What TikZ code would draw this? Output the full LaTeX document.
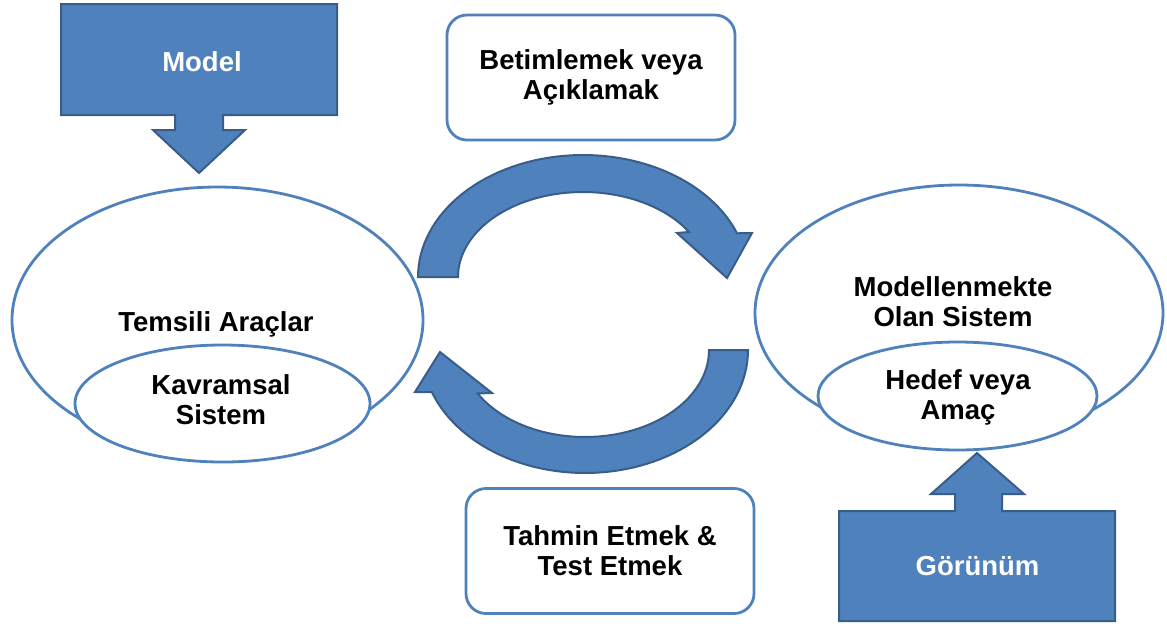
\documentclass[tikz,border=0pt]{standalone}
\usepackage{fontspec}
\setmainfont{Liberation Sans}
\usetikzlibrary{shapes.geometric}
\definecolor{fillblue}{HTML}{4F81BD}
\definecolor{edgeblue}{HTML}{385D8A}
\begin{document}
\begin{tikzpicture}[x=0.5pt,y=-0.5pt,
  lbl/.style={font=\bfseries\fontsize{13.75}{15}\selectfont, align=center, inner sep=0pt},
  wlbl/.style={lbl, text=white},
  ring/.style={ellipse, draw=fillblue, line width=1.4pt, fill=white, inner sep=0pt},
  rbox/.style={draw=fillblue, line width=1.4pt, rounded corners=10pt, fill=white,
    inner sep=0pt, minimum width=144pt, minimum height=62.5pt,
    font=\bfseries\fontsize{13.75}{15}\selectfont, align=center},
  blockshape/.style={fill=fillblue, draw=edgeblue, line width=1pt, line join=miter}]
\useasboundingbox (0,0) rectangle (1167,623);

% left system
\node[ring, minimum width=205.5pt, minimum height=133pt] (tools) at (217.5,320) {};
\node[ring, minimum width=147.5pt, minimum height=58.5pt] (concept) at (222.5,403.5) {};
\node[lbl, anchor=base] (toolstext) at (216,331) {Temsili Araçlar};
\node[lbl] (concepttext) at (221,400) {Kavramsal\\Sistem};

% right system
\node[ring, minimum width=204pt, minimum height=128pt] (system) at (959,313) {};
\node[ring, minimum width=139.5pt, minimum height=54pt] (goal) at (957.5,396) {};
\node[lbl] (systemtext) at (953,302) {Modellenmekte\\Olan Sistem};
\node[lbl] (goaltext) at (958,397) {Hedef veya\\Amaç};

% rounded boxes
\node[rbox] (describe) at (591,77.5) {Betimlemek veya\\Açıklamak};
\node[rbox] (predict) at (610,551) {Tahmin Etmek \&\\Test Etmek};

% Model callout
\draw[blockshape] (61,4) -- (337,4) -- (337,115) -- (223,115) -- (223,130) -- (245,130)
  -- (199,173) -- (153,130) -- (175,130) -- (175,115) -- (61,115) -- cycle;
\node[wlbl, anchor=base] (model) at (202,71) {Model};

% Gorunum callout
\draw[blockshape] (839,511) -- (955,511) -- (955,494) -- (931,494) -- (977,453)
  -- (1024,494) -- (1002,494) -- (1002,511) -- (1115,511) -- (1115,621) -- (839,621) -- cycle;
\node[wlbl, anchor=base] (view) at (977.5,575) {Görünüm};

% circular arrows
\draw[blockshape] plot[domain=180:339,samples=60] ({583+165*cos(\x)},{277+122*sin(\x)})
  -- (752,233) -- (727,278) -- (677,233)
  -- plot[domain=328:180,samples=60] ({583+125*cos(\x)},{277+85*sin(\x)}) -- cycle;
\draw[blockshape] plot[domain=0:160,samples=60] ({585+163*cos(\x)},{350+123*sin(\x)})
  -- (415,392) -- (440,352) -- (492,393)
  -- plot[domain=150:0,samples=60] ({585+124*cos(\x)},{350+87*sin(\x)}) -- cycle;
\end{tikzpicture}
\end{document}
